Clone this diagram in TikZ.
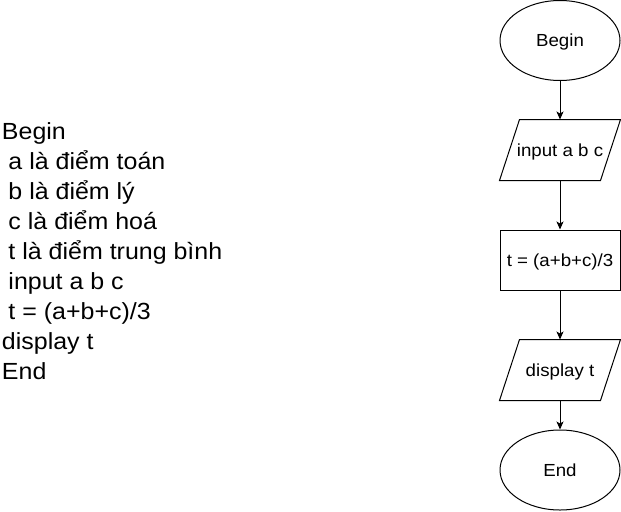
\documentclass[tikz,border=0pt]{standalone}
\usepackage{fontspec}
\setmainfont{Liberation Sans}[FakeStretch=1.07]
\usetikzlibrary{shapes.geometric,arrows.meta}
\tikzset{
  every picture/.style={line width=0.75pt},
  lefttext/.style={anchor=base west,inner sep=0pt,font=\fontsize{17.5pt}{20pt}\selectfont},
  fc/.style={draw=black,inner sep=0pt,text height=9.4pt,text depth=0pt,align=center,
             font=\fontsize{13.1pt}{15pt}\selectfont},
  term/.style={fc,ellipse,minimum width=90pt,minimum height=60pt},
  procbox/.style={fc,rectangle,minimum width=90pt,minimum height=45pt},
  iobox/.style={fc,draw=none,rectangle,minimum width=90pt,minimum height=45pt},
  flow/.style={-{Stealth[length=6pt,width=5.25pt,inset=1.5pt]}},
}
\newcommand{\para}[1]{\draw ([xshift=15pt]#1.north west) -- (#1.north east) -- ([xshift=-15pt]#1.south east) -- (#1.south west) -- cycle;}
\begin{document}
\begin{tikzpicture}[x=0.75pt,y=-0.75pt]
\useasboundingbox (0,0) rectangle (621,511);
% pseudo-code text
\node[lefttext] (l1) at (1.5,139) {Begin};
\node[lefttext] (l2) at (8,169) {a là điểm toán};
\node[lefttext] (l3) at (8,199) {b là điểm lý};
\node[lefttext] (l4) at (8,229) {c là điểm hoá};
\node[lefttext] (l5) at (8,259) {t là điểm trung bình};
\node[lefttext] (l6) at (8,289) {input a b c};
\node[lefttext] (l7) at (8,319) {t = (a+b+c)/3};
\node[lefttext] (l8) at (1.5,349) {display t};
\node[lefttext] (l9) at (1.5,379) {End};
% flowchart
\node[term] (begin) at (560,40.5) {Begin};
\node[iobox] (input) at (560,150) {input a b c};
\para{input}
\node[procbox] (calc) at (560,260) {t = (a+b+c)/3};
\node[iobox] (disp) at (560,370) {display t};
\para{disp}
\node[term] (end) at (560,470) {End};
\draw[flow] (begin) -- (input);
\draw[flow] (input) -- (calc);
\draw[flow] (calc) -- (disp);
\draw[flow] (disp) -- (end);
\end{tikzpicture}
\end{document}
